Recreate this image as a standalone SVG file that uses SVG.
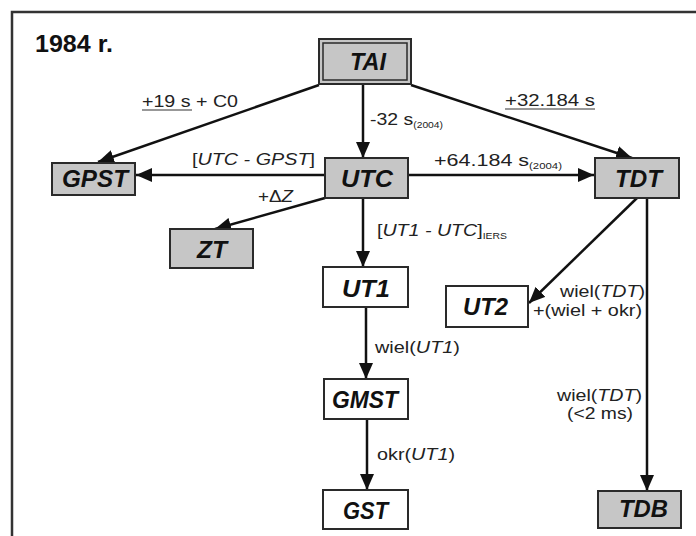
<svg xmlns="http://www.w3.org/2000/svg" width="696" height="536" viewBox="0 0 696 536">
<style>
.frame{fill:none;stroke:#333;stroke-width:2.5}
.g{fill:#c6c6c6;stroke:#2a2a2a;stroke-width:2}
.w{fill:#fff;stroke:#2a2a2a;stroke-width:2}
.n{font-family:"Liberation Sans",Arial,sans-serif;font-weight:bold;font-style:italic;font-size:23px;fill:#111}
.l{font-family:"Liberation Sans",Arial,sans-serif;font-size:17px;fill:#222}
.i{font-style:italic}
.s{font-size:9px}
.c{fill:none;stroke:#111;stroke-width:2.5}
.u{stroke:#333;stroke-width:1.2}
</style>
<defs>
<marker id="ah" markerUnits="userSpaceOnUse" markerWidth="16" markerHeight="14" refX="16" refY="7" orient="auto">
<path d="M0,0 L16,7 L0,14 z" fill="#111"/>
</marker>
</defs>
<rect x="0" y="0" width="696" height="536" fill="#fff"/>
<path class="frame" d="M12,536 L12,12 L696,12"/>
<text x="35" y="52" style="font-family:'Liberation Sans',Arial,sans-serif;font-weight:bold;font-size:23px;fill:#111" textLength="78" lengthAdjust="spacingAndGlyphs">1984 r.</text>

<g id="connectors">
<path class="c" d="M363,85 L363,158" marker-end="url(#ah)"/>
<path class="c" d="M319,85 L98,162" marker-end="url(#ah)"/>
<path class="c" d="M411,85 L632,158" marker-end="url(#ah)"/>
<path class="c" d="M325,175 L136,175" marker-end="url(#ah)"/>
<path class="c" d="M408,175 L594,175" marker-end="url(#ah)"/>
<path class="c" d="M325,198 L215,229" marker-end="url(#ah)"/>
<path class="c" d="M363,198 L363,267" marker-end="url(#ah)"/>
<path class="c" d="M366,307 L366,379" marker-end="url(#ah)"/>
<path class="c" d="M367,419 L367,490" marker-end="url(#ah)"/>
<path class="c" d="M637,198 L529,303" marker-end="url(#ah)"/>
<path class="c" d="M647,198 L647,491" marker-end="url(#ah)"/>
</g>

<g id="labels">
<text class="l" x="142" y="107" textLength="96" lengthAdjust="spacingAndGlyphs">+19 s + C0</text>
<line class="u" x1="142" y1="110" x2="192" y2="110"/>
<text class="l" x="370" y="125" textLength="73" lengthAdjust="spacingAndGlyphs">-32 s<tspan class="s" dy="3">(2004)</tspan></text>
<text class="l" x="505" y="106" textLength="90" lengthAdjust="spacingAndGlyphs">+32.184 s</text>
<line class="u" x1="505" y1="109" x2="595" y2="109"/>
<text class="l" x="192" y="165" textLength="123" lengthAdjust="spacingAndGlyphs">[<tspan class="i">UTC - GPST</tspan>]</text>
<text class="l" x="258" y="202" textLength="35" lengthAdjust="spacingAndGlyphs">+Δ<tspan class="i">Z</tspan></text>
<text class="l" x="434" y="166" textLength="128" lengthAdjust="spacingAndGlyphs">+64.184 s<tspan class="s" dy="3">(2004)</tspan></text>
<text class="l" x="377" y="236" textLength="130" lengthAdjust="spacingAndGlyphs">[<tspan class="i">UT1 - UTC</tspan>]<tspan class="s" dy="3">IERS</tspan></text>
<text class="l" x="560" y="297" textLength="85" lengthAdjust="spacingAndGlyphs">wiel(<tspan class="i">TDT</tspan>)</text>
<text class="l" x="533" y="316" textLength="109" lengthAdjust="spacingAndGlyphs">+(wiel + okr)</text>
<text class="l" x="375" y="353" textLength="85" lengthAdjust="spacingAndGlyphs">wiel(<tspan class="i">UT1</tspan>)</text>
<text class="l" x="377" y="460" textLength="78" lengthAdjust="spacingAndGlyphs">okr(<tspan class="i">UT1</tspan>)</text>
<text class="l" x="557" y="401" textLength="85" lengthAdjust="spacingAndGlyphs">wiel(<tspan class="i">TDT</tspan>)</text>
<text class="l" x="567" y="419" textLength="66" lengthAdjust="spacingAndGlyphs">(&lt;2 ms)</text>
</g>

<g id="TAI">
<rect class="g" x="319" y="39" width="92" height="45"/>
<rect x="323" y="43" width="84" height="37" fill="none" stroke="#2a2a2a" stroke-width="1.5"/>
<text class="n" x="350" y="70" textLength="36" lengthAdjust="spacingAndGlyphs">TAI</text>
</g>
<g id="UTC">
<rect class="g" x="325" y="158" width="83" height="40"/>
<text class="n" x="341" y="187" textLength="52" lengthAdjust="spacingAndGlyphs">UTC</text>
</g>
<g id="GPST">
<rect class="g" x="52" y="163" width="83" height="32"/>
<text class="n" x="62" y="187" textLength="66" lengthAdjust="spacingAndGlyphs">GPST</text>
</g>
<g id="ZT">
<rect class="g" x="170" y="229" width="83" height="39"/>
<text class="n" x="197" y="258" textLength="30" lengthAdjust="spacingAndGlyphs">ZT</text>
</g>
<g id="TDT">
<rect class="g" x="595" y="158" width="84" height="40"/>
<text class="n" x="615" y="187" textLength="47" lengthAdjust="spacingAndGlyphs">TDT</text>
</g>
<g id="UT1">
<rect class="w" x="323" y="267" width="85" height="40"/>
<text class="n" x="342" y="297" textLength="48" lengthAdjust="spacingAndGlyphs">UT1</text>
</g>
<g id="UT2">
<rect class="w" x="446" y="286" width="82" height="41"/>
<text class="n" x="463" y="315" textLength="45" lengthAdjust="spacingAndGlyphs">UT2</text>
</g>
<g id="GMST">
<rect class="w" x="324" y="379" width="84" height="40"/>
<text class="n" x="332" y="408" textLength="66" lengthAdjust="spacingAndGlyphs">GMST</text>
</g>
<g id="GST">
<rect class="w" x="323" y="490" width="85" height="39"/>
<text class="n" x="343" y="519" textLength="45" lengthAdjust="spacingAndGlyphs">GST</text>
</g>
<g id="TDB">
<rect class="g" x="598" y="491" width="83" height="37"/>
<text class="n" x="619" y="517" textLength="49" lengthAdjust="spacingAndGlyphs">TDB</text>
</g>
</svg>
